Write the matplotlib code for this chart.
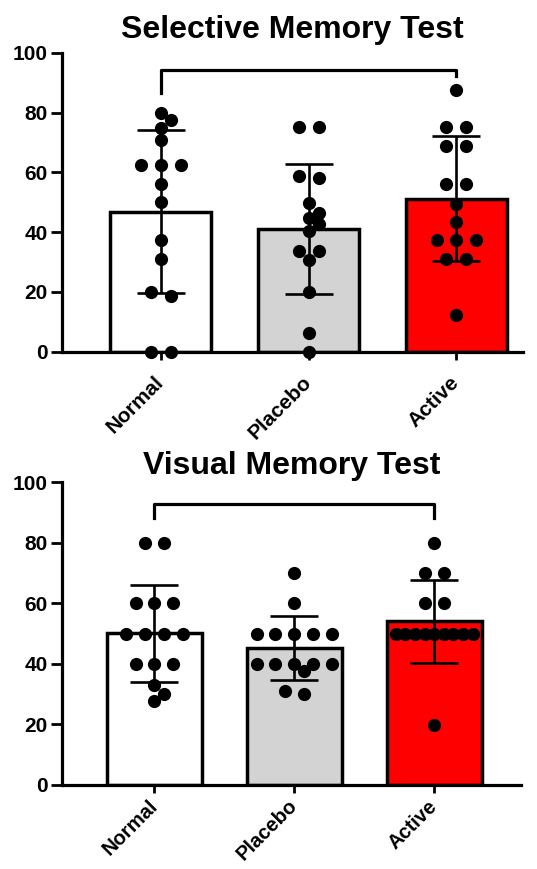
import numpy as np
import matplotlib
matplotlib.use('Agg')
import matplotlib.pyplot as plt

plt.rcParams['font.family'] = ['Liberation Sans', 'DejaVu Sans']
plt.rcParams['font.weight'] = 'bold'

# groups and per-subject scores
groups = ['Normal', 'Placebo', 'Active']
bar_colors = ['white', '#d3d3d3', '#ff0000']

sel_normal = [79.9, 77.7, 75.0, 71.0, 62.4, 62.4, 62.4, 56.1, 50.0, 37.4, 31.0, 19.9, 18.7, 0, 0]
sel_placebo = [75.3, 75.3, 58.8, 58.0, 49.8, 46.3, 44.8, 42.7, 40.5, 33.8, 33.8, 30.7, 19.9, 6.2, 0]
sel_active = [87.5, 75.3, 75.3, 68.8, 68.8, 56.1, 56.1, 49.6, 43.5, 37.4, 37.4, 37.4, 31.0, 31.0, 12.3]

vis_normal = [80, 80, 60, 60, 60, 50, 50, 50, 50, 40, 40, 40, 33.0, 30.0, 27.8]
vis_placebo = [70, 60, 50, 50, 50, 50, 50, 40, 40, 40, 40, 40, 37.7, 31.1, 30.0]
vis_active = [80, 70, 70, 60, 60, 50, 50, 50, 50, 50, 50, 50, 50, 50, 19.8]

# comparison bracket: left arm end, bar height, right arm end
sel_bracket = [86.5, 94.2, 92.2]
vis_bracket = [88.2, 92.7, 88.2]

W, H, DPI = 537, 869, 100
MS = 9.5


def swarm(vals, px_x, px_y, step, cap, diam):
    # spread near-equal values into rows, then tuck the rest in without overlap
    vals = np.asarray(vals, float)
    order = np.argsort(-vals, kind='stable')
    rows = []
    for i in order:
        if rows and vals[rows[-1][-1]] - vals[i] <= 1.3:
            rows[-1].append(i)
        else:
            rows.append([i])
    off = np.zeros(len(vals))
    placed = []
    for r in rows:
        if len(r) > 1:
            n = len(r)
            s = min(step, cap / (n - 1))
            for k, i in enumerate(r):
                off[i] = (k - (n - 1) / 2) * s
                placed.append(i)
    for r in rows:
        if len(r) == 1:
            i = r[0]
            cands = [0.0]
            for k in range(1, 12):
                cands += [k * step / 2, -k * step / 2]
            for c in cands:
                if all(np.hypot(c - off[j], (vals[i] - vals[j]) * px_y) >= 0.8 * diam for j in placed):
                    off[i] = c
                    break
            placed.append(i)
    return off / px_x


def panel(ax, title, data, bracket, xlim, title_pad, label_pad, label_size):
    x = np.arange(len(groups))
    means = [np.mean(d) for d in data]
    sds = [np.std(d, ddof=1) for d in data]

    ax.set_xlim(*xlim)
    ax.set_ylim(0, 100)
    bb = ax.get_position()
    px_x = bb.width * W / (xlim[1] - xlim[0])
    px_y = bb.height * H / 100

    ax.bar(x, means, width=0.68, color=bar_colors, edgecolor='black', linewidth=2.5, zorder=1)
    ax.errorbar(x, means, yerr=sds, fmt='none', ecolor='black', elinewidth=1.9,
                capsize=17, capthick=1.9, zorder=3)
    for xi, d in zip(x, data):
        dx = swarm(d, px_x, px_y, 0.135 * px_x, 0.55 * px_x, MS * DPI / 72)
        ax.plot(xi + dx, d, 'o', color='black', markersize=MS, markeredgewidth=0,
                clip_on=False, zorder=4)

    ax.plot([x[0], x[0], x[2], x[2]], [bracket[0], bracket[1], bracket[1], bracket[2]],
            color='black', linewidth=2.3, clip_on=False, zorder=2)

    ax.set_title(title, fontsize=23, fontweight='bold', pad=title_pad)
    for s in ['top', 'right']:
        ax.spines[s].set_visible(False)
    for s in ['left', 'bottom']:
        ax.spines[s].set_linewidth(2.3)
    ax.set_yticks([0, 20, 40, 60, 80, 100])
    ax.tick_params(axis='y', length=8, width=2, labelsize=15, pad=2)
    ax.tick_params(axis='x', length=6, width=2, labelsize=label_size, pad=label_pad)
    ax.set_xticks(x)
    ax.set_xticklabels(groups, rotation=45, ha='right', va='center', rotation_mode='anchor')
    for lab in ax.get_xticklabels() + ax.get_yticklabels():
        lab.set_fontweight('bold')


fig = plt.figure(figsize=(W / DPI, H / DPI), dpi=DPI)
ax1 = fig.add_axes([61.7 / W, 1 - 351.7 / H, (523 - 61.7) / W, (351.7 - 53) / H])
ax2 = fig.add_axes([61.7 / W, 1 - 785 / H, (521 - 61.7) / W, (785 - 482) / H])

panel(ax1, 'Selective Memory Test', [sel_normal, sel_placebo, sel_active], sel_bracket,
      (-0.67, 2.45), 11, 14, 15)
panel(ax2, 'Visual Memory Test', [vis_normal, vis_placebo, vis_active], vis_bracket,
      (-0.663, 2.62), 6, 7, 14.5)

fig.savefig('out.png', dpi=DPI)
